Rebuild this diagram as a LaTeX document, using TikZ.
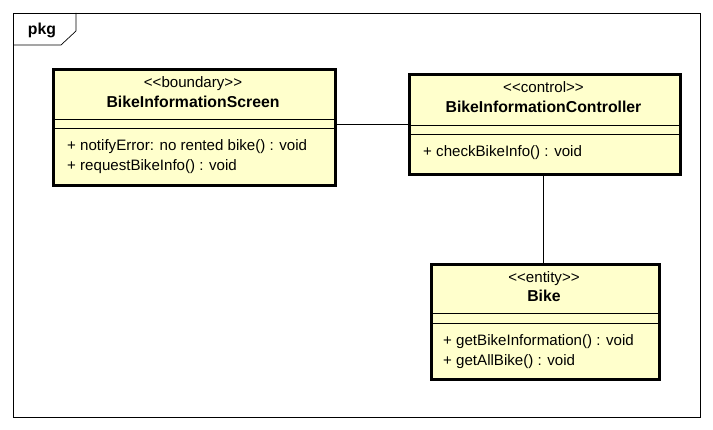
\documentclass[tikz,border=0pt]{standalone}
\usepackage{fontspec}
\setmainfont{Liberation Sans}
\definecolor{umlfill}{HTML}{FFFFCC}
\begin{document}
\begin{tikzpicture}[x=1pt,y=-1pt,
  cls/.style={draw=black,line width=2.6pt,fill=umlfill,rectangle,anchor=north west,inner sep=0pt},
  sep/.style={draw=black,line width=0.7pt},
  st/.style={font=\fontsize{15.1}{16}\selectfont,inner sep=0pt,anchor=base},
  nm/.style={font=\fontsize{15.8}{17}\selectfont\bfseries,inner sep=0pt,anchor=base},
  op/.style={font=\fontsize{15.1}{16}\selectfont,inner sep=0pt,anchor=base west},
  conn/.style={draw=black,line width=0.7pt}]
\useasboundingbox (0,0) rectangle (713,430);
% frame
\node[draw=black,line width=0.7pt,rectangle,anchor=north west,minimum width=687pt,minimum height=404pt,inner sep=0pt] (frame) at (13,13) {};
\coordinate (t1) at (13,45);
\coordinate (t2) at (61,45);
\coordinate (t3) at (76,31);
\coordinate (t4) at (76,13);
\draw[line width=0.7pt] (t1) -- (t2) -- (t3) -- (t4);
\node[font=\fontsize{15.8}{17}\selectfont\bfseries,inner sep=0pt,anchor=base] (pkg) at (42,35) {pkg};
% box 1
\node[cls,minimum width=282pt,minimum height=116pt] (b1) at (52,68) {};
\draw[sep] (52,119) -- (334,119);
\draw[sep] (52,128) -- (334,128);
\node[st] (b1s) at (193,88) {{<}{<}boundary{>}{>}};
\node[nm] (b1n) at (193,108) {BikeInformationScreen};
\node[op] (b1o1) at (67,151) {+ notifyError: no rented bike() : void};
\node[op] (b1o2) at (67,170.5) {+ requestBikeInfo() : void};
% box 2
\node[cls,minimum width=271pt,minimum height=100pt] (b2) at (408,73) {};
\draw[sep] (408,125) -- (679,125);
\draw[sep] (408,134) -- (679,134);
\node[st] (b2s) at (543.5,93) {{<}{<}control{>}{>}};
\node[nm] (b2n) at (543.5,113) {BikeInformationController};
\node[op] (b2o1) at (423,157) {+ checkBikeInfo() : void};
% box 3
\node[cls,minimum width=228pt,minimum height=115pt] (b3) at (430,263) {};
\draw[sep] (430,313) -- (658,313);
\draw[sep] (430,323) -- (658,323);
\node[st] (b3s) at (544,283) {{<}{<}entity{>}{>}};
\node[nm] (b3n) at (544,302) {Bike};
\node[op] (b3o1) at (443,346) {+ getBikeInformation() : void};
\node[op] (b3o2) at (443,365.5) {+ getAllBike() : void};
% connectors
\draw[conn] (b1.east |- 0,124) -- (b2.west |- 0,124);
\draw[conn] (b2.south -| 543,0) -- (b3.north -| 543,0);
\end{tikzpicture}
\end{document}
